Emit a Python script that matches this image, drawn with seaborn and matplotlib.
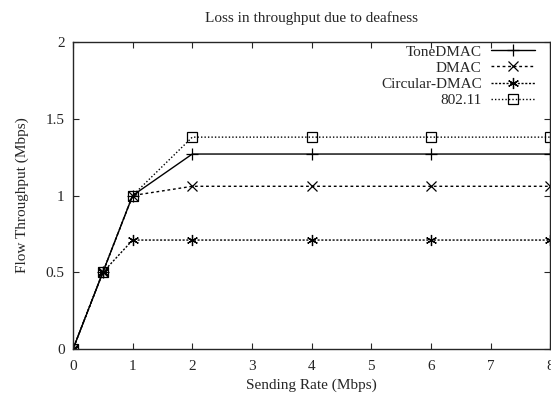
import numpy as np
import pandas as pd
import matplotlib
matplotlib.use("Agg")
import matplotlib.pyplot as plt
import seaborn as sns

sending_rate = [0, 0.5, 1, 2, 4, 6, 8]
tonedmac = [0, 0.5, 1.0, 1.27, 1.27, 1.27, 1.27]
dmac = [0, 0.5, 1.0, 1.06, 1.06, 1.06, 1.06]
circular_dmac = [0, 0.5, 0.71, 0.71, 0.71, 0.71, 0.71]
ieee80211 = [0, 0.5, 1.0, 1.38, 1.38, 1.38, 1.38]

series = {
    "ToneDMAC": tonedmac,
    "DMAC": dmac,
    "Circular-DMAC": circular_dmac,
    "802.11": ieee80211,
}

sns.set_style("ticks")
plt.rcParams["font.family"] = ["Liberation Serif", "DejaVu Serif"]
plt.rcParams["font.size"] = 11

fig = plt.figure(figsize=(5.51, 3.99), dpi=100)
ax = fig.add_axes([0.1325, 0.125, 0.866, 0.77])

styles = {
    "ToneDMAC": dict(linestyle="-", marker="+", markersize=9),
    "DMAC": dict(linestyle=(0, (2, 2)), marker="x", markersize=7),
    "Circular-DMAC": dict(linestyle=(0, (1.5, 1.2)), marker=(6, 2, 0), markersize=8),
    "802.11": dict(linestyle=(0, (1, 1.5)), marker="s", markersize=7),
}

for name, vals in series.items():
    df = pd.DataFrame({"rate": sending_rate, "thr": vals})
    sns.lineplot(data=df, x="rate", y="thr", ax=ax, color="black", linewidth=1,
                 markeredgecolor="black", markerfacecolor="none",
                 markeredgewidth=0.9, label=name, **styles[name])

ax.set_xlim(0, 8)
ax.set_ylim(0, 2)
ax.set_xticks(range(0, 9))
ax.set_yticks([0, 0.5, 1, 1.5, 2])
ax.set_yticklabels(["0", "0.5", "1", "1.5", "2"])
ax.tick_params(direction="in", top=True, right=True, length=4, width=0.8,
               labelsize=11, pad=6)
ax.tick_params(axis="x", pad=8)
for s in ax.spines.values():
    s.set_linewidth(1)
    s.set_visible(True)
ax.set_xlabel("Sending Rate (Mbps)", fontsize=11, labelpad=4)
ax.set_ylabel("Flow Throughput (Mbps)", fontsize=11, labelpad=12)
ax.set_title("Loss in throughput due to deafness", fontsize=11, pad=14)

leg = ax.legend(loc="upper right", frameon=False, markerfirst=False,
                handlelength=2.9, handletextpad=0.6, labelspacing=0.16,
                borderaxespad=0.0, borderpad=0.2, fontsize=11,
                bbox_to_anchor=(0.975, 1.0))

fig.savefig("out.png", dpi=100)
